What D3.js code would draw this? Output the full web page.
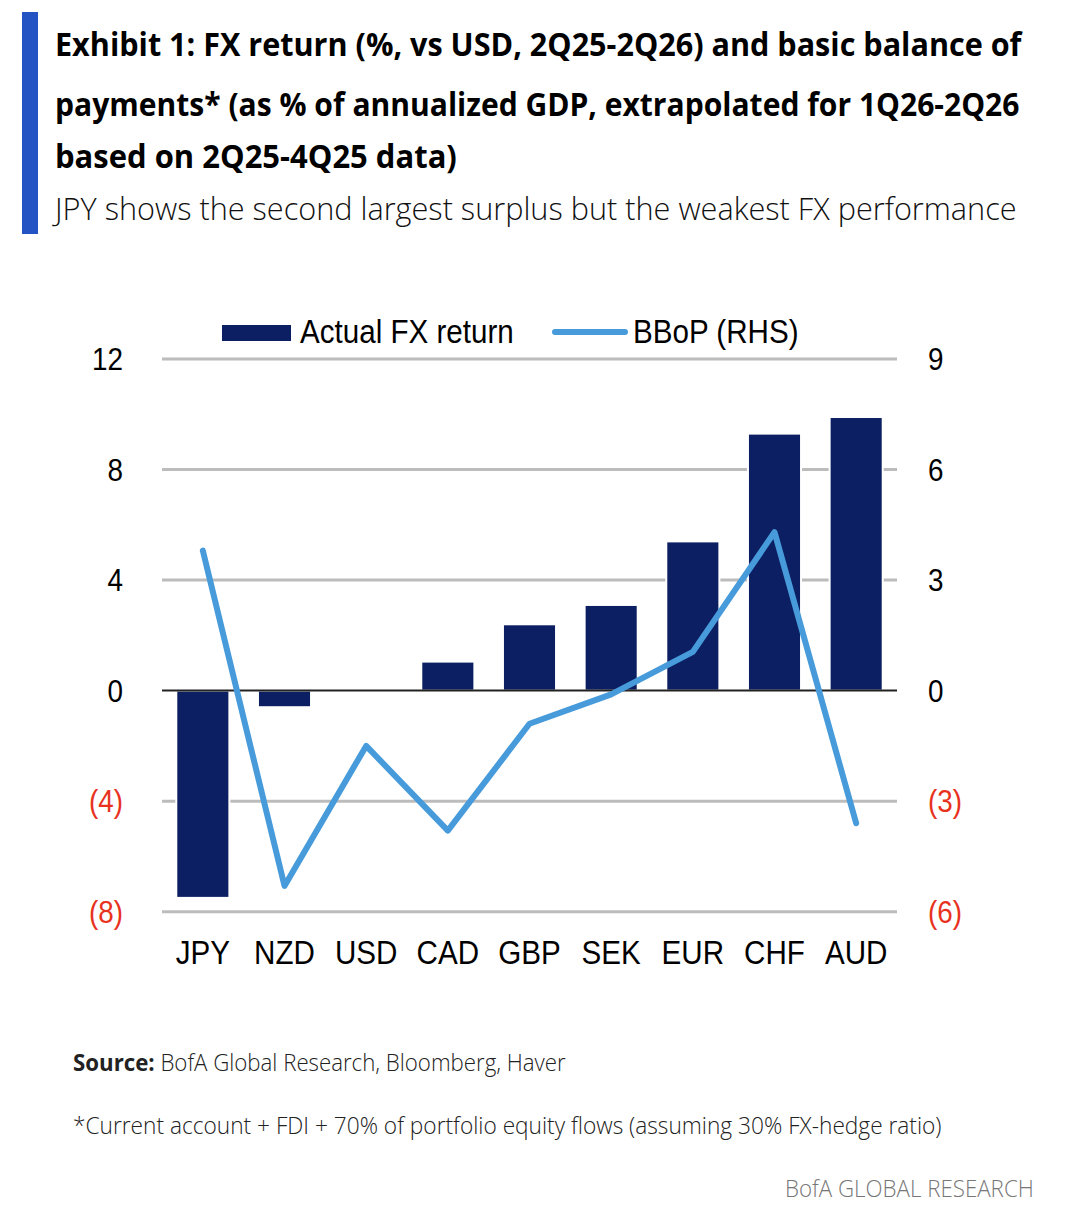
<!DOCTYPE html>
<html>
<head>
<meta charset="utf-8">
<script src="https://cdn.jsdelivr.net/npm/d3@7"></script>
<style>
    body { margin: 0; background: #fff; }
    svg { display: block; }
</style>
</head>
<body>
<script>
//chart data
var currencies = ["JPY", "NZD", "USD", "CAD", "GBP", "SEK", "EUR", "CHF", "AUD"];
var fxReturn = [-7.5, -0.6, 0, 1.05, 2.4, 3.1, 5.4, 9.3, 9.9];
var bbop = [3.8, -5.3, -1.5, -3.8, -0.9, -0.1, 1.05, 4.3, -3.6];
var leftTicks = [-8, -4, 0, 4, 8, 12];
var rightTicks = [-6, -3, 0, 3, 6, 9];

var titleLines = [
    "Exhibit 1: FX return (%, vs USD, 2Q25-2Q26) and basic balance of",
    "payments* (as % of annualized GDP, extrapolated for 1Q26-2Q26",
    "based on 2Q25-4Q25 data)"
];
var subtitle = "JPY shows the second largest surplus but the weakest FX performance";

window.onload = setChart();

//squeeze a text horizontally so it looks like a narrow font
function narrow(sel, k){
    sel.each(function(){
        var w = this.getComputedTextLength();
        d3.select(this)
            .attr("textLength", w * k)
            .attr("lengthAdjust", "spacingAndGlyphs");
    });
}

//place a text at (x, y) and scale it along x to a target width
function fitTo(sel, x, y, target){
    var w = sel.node().getComputedTextLength();
    sel.attr("transform", "translate(" + x + "," + y + ") scale(" + (target / w) + ",1)");
}

function setChart(){

    var width = 1076,
        height = 1220;

    var svg = d3.select("body")
        .append("svg")
        .attr("width", width)
        .attr("height", height);

    //blue bar on the left of the heading
    svg.append("rect")
        .attr("x", 22)
        .attr("y", 12)
        .attr("width", 16)
        .attr("height", 222)
        .attr("fill", "#2453c4");

    //title, squeezed to look like the condensed house font
    var titleBase = [56, 116, 168];
    var titleWidth = [967, 965, 402];
    var title = svg.append("g");
    titleLines.forEach(function(t, i){
        var tx = title.append("text")
            .attr("font-family", "Open Sans")
            .attr("font-weight", 700)
            .attr("font-size", 33)
            .attr("fill", "#000")
            .text(t);
        fitTo(tx, 55, titleBase[i], titleWidth[i]);
    });

    var sub = svg.append("text")
        .attr("font-family", "Open Sans")
        .attr("font-weight", 300)
        .attr("font-size", 32)
        .attr("fill", "#111")
        .text(subtitle);
    fitTo(sub, 55, 220, 962);

    //scales
    var x = d3.scaleBand()
        .domain(currencies)
        .range([162, 897])
        .paddingInner(0.35)
        .paddingOuter(0.175);

    var yL = d3.scaleLinear()
        .domain([-8, 12])
        .range([911.7, 359]);

    var yR = d3.scaleLinear()
        .domain([-6, 9])
        .range([911.7, 359]);

    var fmt = function(v){ return v < 0 ? "(" + Math.abs(v) + ")" : String(v); };
    var tickColor = function(v){ return v < 0 ? "#e8321e" : "#000"; };
    var labelFont = "'Liberation Sans', Arial, sans-serif";
    var squeeze = 0.87;

    //gridlines
    svg.append("g")
        .selectAll("line")
        .data(leftTicks.filter(function(d){ return d !== 0; }))
        .enter()
        .append("line")
        .attr("x1", 162)
        .attr("x2", 897)
        .attr("y1", function(d){ return yL(d); })
        .attr("y2", function(d){ return yL(d); })
        .attr("stroke", "#bcbcbc")
        .attr("stroke-width", 3);

    //bars
    var bars = fxReturn.map(function(v, i){ return { c: currencies[i], v: v }; });
    svg.append("g")
        .selectAll("rect")
        .data(bars)
        .enter()
        .append("rect")
        .attr("x", function(d){ return x(d.c); })
        .attr("width", x.bandwidth())
        .attr("y", function(d){ return yL(Math.max(0, d.v)); })
        .attr("height", function(d){ return Math.abs(yL(d.v) - yL(0)); })
        .attr("fill", "#0b1f62")
        .attr("stroke", "#fff")
        .attr("stroke-width", 2);

    //zero line
    svg.append("line")
        .attr("x1", 162)
        .attr("x2", 897)
        .attr("y1", yL(0))
        .attr("y2", yL(0))
        .attr("stroke", "#222")
        .attr("stroke-width", 2);

    //BBoP line on the right axis
    var line = d3.line()
        .x(function(d, i){ return x(currencies[i]) + x.bandwidth() / 2; })
        .y(function(d){ return yR(d); });

    svg.append("path")
        .datum(bbop)
        .attr("d", line)
        .attr("fill", "none")
        .attr("stroke", "#479bda")
        .attr("stroke-width", 6)
        .attr("stroke-linejoin", "round")
        .attr("stroke-linecap", "round");

    //left axis
    var axL = svg.append("g")
        .attr("transform", "translate(129,0)")
        .call(d3.axisLeft(yL).tickValues(leftTicks).tickFormat(fmt).tickSize(0).tickPadding(6));
    axL.select(".domain").remove();
    axL.selectAll("text")
        .attr("font-family", labelFont)
        .attr("font-size", 32)
        .attr("dy", "0.33em")
        .attr("fill", function(d){ return tickColor(d); })
        .call(narrow, squeeze);

    //right axis
    var axR = svg.append("g")
        .attr("transform", "translate(922,0)")
        .call(d3.axisRight(yR).tickValues(rightTicks).tickFormat(fmt).tickSize(0).tickPadding(6));
    axR.select(".domain").remove();
    axR.selectAll("text")
        .attr("font-family", labelFont)
        .attr("font-size", 32)
        .attr("dy", "0.33em")
        .attr("fill", function(d){ return tickColor(d); })
        .call(narrow, squeeze);

    //category axis
    var axX = svg.append("g")
        .attr("transform", "translate(0,932)")
        .call(d3.axisBottom(x).tickSize(0).tickPadding(0));
    axX.select(".domain").remove();
    axX.selectAll("text")
        .attr("font-family", labelFont)
        .attr("font-size", 34)
        .attr("dy", "0.95em")
        .attr("fill", "#000")
        .call(narrow, squeeze);

    //legend
    var legend = svg.append("g");
    legend.append("rect")
        .attr("x", 222)
        .attr("y", 325)
        .attr("width", 69)
        .attr("height", 16)
        .attr("fill", "#0b1f62");
    legend.append("text")
        .attr("x", 300)
        .attr("y", 343)
        .attr("font-family", labelFont)
        .attr("font-size", 34)
        .text("Actual FX return")
        .call(narrow, squeeze);
    legend.append("line")
        .attr("x1", 555)
        .attr("x2", 625)
        .attr("y1", 332)
        .attr("y2", 332)
        .attr("stroke", "#479bda")
        .attr("stroke-width", 6)
        .attr("stroke-linecap", "round");
    legend.append("text")
        .attr("x", 633)
        .attr("y", 343)
        .attr("font-family", labelFont)
        .attr("font-size", 34)
        .text("BBoP (RHS)")
        .call(narrow, squeeze);

    //footer
    var src = svg.append("text")
        .attr("font-family", "Open Sans")
        .attr("font-size", 24)
        .attr("fill", "#222");
    src.append("tspan").attr("font-weight", 700).text("Source:");
    src.append("tspan").attr("font-weight", 300).text(" BofA Global Research, Bloomberg, Haver");
    fitTo(src, 73, 1071, 493);

    var note = svg.append("text")
        .attr("font-family", "Open Sans")
        .attr("font-weight", 300)
        .attr("font-size", 24)
        .attr("fill", "#222")
        .text("*Current account + FDI + 70% of portfolio equity flows (assuming 30% FX-hedge ratio)");
    fitTo(note, 73, 1134, 869);

    var brand = svg.append("text")
        .attr("font-family", "Open Sans")
        .attr("font-weight", 300)
        .attr("font-size", 24)
        .attr("fill", "#777")
        .text("BofA GLOBAL RESEARCH");
    fitTo(brand, 785, 1197, 249);
}
</script>
</body>
</html>
